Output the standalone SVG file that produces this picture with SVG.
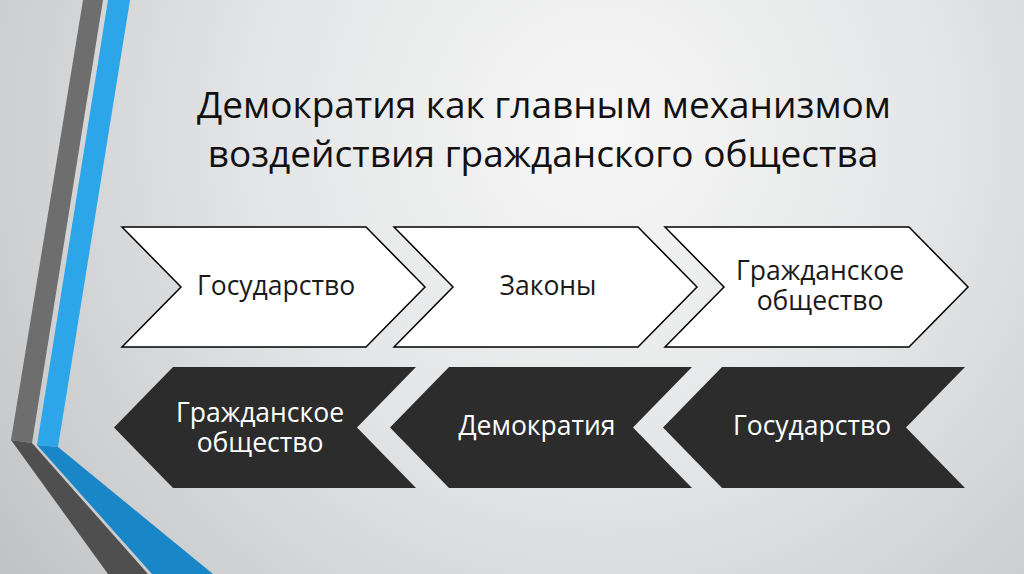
<svg xmlns="http://www.w3.org/2000/svg" width="1024" height="574" viewBox="0 0 1024 574">
  <defs>
    <radialGradient id="bg" cx="600" cy="130" r="760" gradientUnits="userSpaceOnUse">
      <stop offset="0" stop-color="#f7f7f7"/>
      <stop offset="0.45" stop-color="#e4e5e6"/>
      <stop offset="1" stop-color="#bfc1c3"/>
    </radialGradient>
    <style>
      .title { font-family: "Open Sans", "Noto Sans", "DejaVu Sans", sans-serif; font-size: 37px; fill: #111111; text-anchor: middle; }
      .lbl { font-family: "Open Sans", "Noto Sans", "DejaVu Sans", sans-serif; font-size: 26.5px; text-anchor: middle; }
      .dark-t { fill: #1a1a1a; }
      .light-t { fill: #ffffff; }
      .white-chev { fill: #ffffff; stroke: #000000; stroke-width: 1.5; stroke-linejoin: miter; }
      .dark-chev { fill: #2c2c2c; }
    </style>
  </defs>

  <rect x="0" y="0" width="1024" height="574" fill="url(#bg)"/>

  <g id="decoration">
    <polygon points="83,0 103,0 32,443 11,440" fill="#6e6e6e"/>
    <polygon points="11,440 32,443 148,574 108,574" fill="#4f4f4f"/>
    <polygon points="108,0 130,0 58,447 37,445" fill="#2da5e9"/>
    <polygon points="37,445 58,447 213,574 152,574" fill="#1886c7"/>
  </g>

  <g id="title">
    <text class="title" x="544" y="118">Демократия как главным механизмом</text>
    <text class="title" x="543" y="167">воздействия гражданского общества</text>
  </g>

  <g id="connectors"></g>

  <g id="top-1">
    <polygon class="white-chev" points="122,227 366,227 425,287 366,347 122,347 181,287"/>
    <text class="lbl dark-t" x="276" y="295">Государство</text>
  </g>
  <g id="top-2">
    <polygon class="white-chev" points="394,227 638,227 697,287 638,347 394,347 453,287"/>
    <text class="lbl dark-t" x="548" y="295">Законы</text>
  </g>
  <g id="top-3">
    <polygon class="white-chev" points="665,227 909,227 968,287 909,347 665,347 724,287"/>
    <text class="lbl dark-t" x="820" y="280">Гражданское</text>
    <text class="lbl dark-t" x="820" y="310">общество</text>
  </g>

  <g id="bottom-1">
    <polygon class="dark-chev" points="114,427.5 173,367 416,367 357,427.5 416,488 173,488"/>
    <text class="lbl light-t" x="260" y="422">Гражданское</text>
    <text class="lbl light-t" x="260" y="452">общество</text>
  </g>
  <g id="bottom-2">
    <polygon class="dark-chev" points="390,427.5 449,367 692,367 633,427.5 692,488 449,488"/>
    <text class="lbl light-t" x="537" y="435">Демократия</text>
  </g>
  <g id="bottom-3">
    <polygon class="dark-chev" points="663,427.5 722,367 965,367 906,427.5 965,488 722,488"/>
    <text class="lbl light-t" x="812" y="435">Государство</text>
  </g>
</svg>
